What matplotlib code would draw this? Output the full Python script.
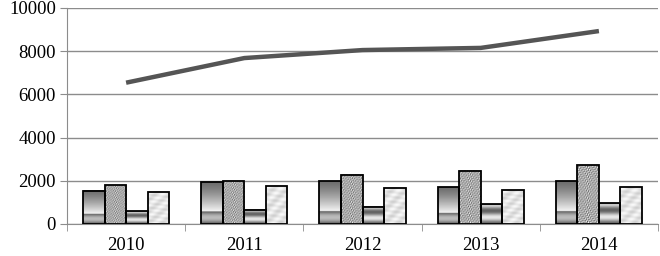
import numpy as np
import matplotlib
matplotlib.use("Agg")
import matplotlib.pyplot as plt
from matplotlib.colors import LinearSegmentedColormap

# data
years = ["2010", "2011", "2012", "2013", "2014"]
series_a = [1530, 1940, 1975, 1700, 1990]
series_b = [1800, 1990, 2270, 2460, 2730]
series_c = [600, 650, 790, 920, 970]
series_d = [1490, 1760, 1670, 1570, 1710]
total = [6540, 7680, 8050, 8150, 8930]

plt.rcParams['font.family'] = ['Liberation Serif', 'DejaVu Serif']

fig = plt.figure(figsize=(6.6, 2.56), dpi=100)
ax = fig.add_axes([0.1015, 0.125, 0.8955, 0.844])

x = np.arange(len(years))
w = 0.182
grey = LinearSegmentedColormap.from_list("g", ["#1e1e1e", "#ffffff"])

# textures (style only), row 0 = top of bar
def tex_chrome(n=80):
    t = np.linspace(0, 1, n)  # 0 top .. 1 bottom
    top = 0.35 + 0.6 * (t / 0.7) ** 1.3
    bot = 0.25 + 0.45 * np.sin((t - 0.7) / 0.3 * np.pi)
    v = np.where(t < 0.7, top, bot)
    return np.tile(v[:, None], (1, 8))

def tex_granite(n=60, m=20):
    i, j = np.mgrid[0:n, 0:m]
    v = 0.62 + 0.2 * np.sin(i * 1.7 + j * 2.3) + 0.17 * np.sin(i * 0.9 - j * 3.1) \
        + 0.12 * np.cos(i * 2.9 + j * 0.7)
    return np.clip(v, 0, 1)

def tex_bands(n=60):
    t = np.linspace(0, 1, n)
    v = 0.6 + 0.3 * np.cos(t * np.pi * 3.0)
    v[:3] = 0.3
    return np.tile(v[:, None], (1, 8))

def tex_marble(n=60, m=20):
    i, j = np.mgrid[0:n, 0:m]
    v = 0.88 + 0.06 * np.sin(i * 0.3 + j * 0.5) + 0.04 * np.sin(i * 0.8 - j * 0.2)
    return np.clip(v, 0, 1)

groups = [(series_a, tex_chrome), (series_b, tex_granite),
          (series_c, tex_bands), (series_d, tex_marble)]

for k, (vals, tex) in enumerate(groups):
    bars = ax.bar(x + (k - 1.5) * w, vals, w, facecolor='none',
                  edgecolor='black', linewidth=1.3, zorder=4)
    for b in bars:
        x0, y0 = b.get_x(), b.get_y()
        ax.imshow(tex(), cmap=grey, vmin=0, vmax=1, aspect='auto', origin='upper',
                  extent=[x0, x0 + b.get_width(), y0, y0 + b.get_height()],
                  interpolation='bilinear', zorder=3)

ax.plot(x, total, color='#555555', linewidth=3.2, zorder=5, solid_capstyle='butt')

ax.set_xlim(-0.5, 4.5)
ax.set_ylim(0, 10000)
ax.set_yticks(range(0, 10001, 2000))
ax.set_xticks(x)
ax.set_xticklabels(years)
ax.set_xticks(np.arange(-0.5, 4.6, 1), minor=True)
ax.grid(axis='y', color='#8c8c8c', linewidth=1, zorder=0)
ax.set_axisbelow(True)
for s in ['top', 'right']:
    ax.spines[s].set_visible(False)
for s in ['left', 'bottom']:
    ax.spines[s].set_color('#8c8c8c')
ax.tick_params(axis='x', which='major', length=0, pad=9, labelsize=13.5)
ax.tick_params(axis='x', which='minor', length=5, color='#8c8c8c')
ax.tick_params(axis='y', length=5, color='#8c8c8c', labelsize=13.5, pad=3)

fig.savefig("out.png", dpi=100)
